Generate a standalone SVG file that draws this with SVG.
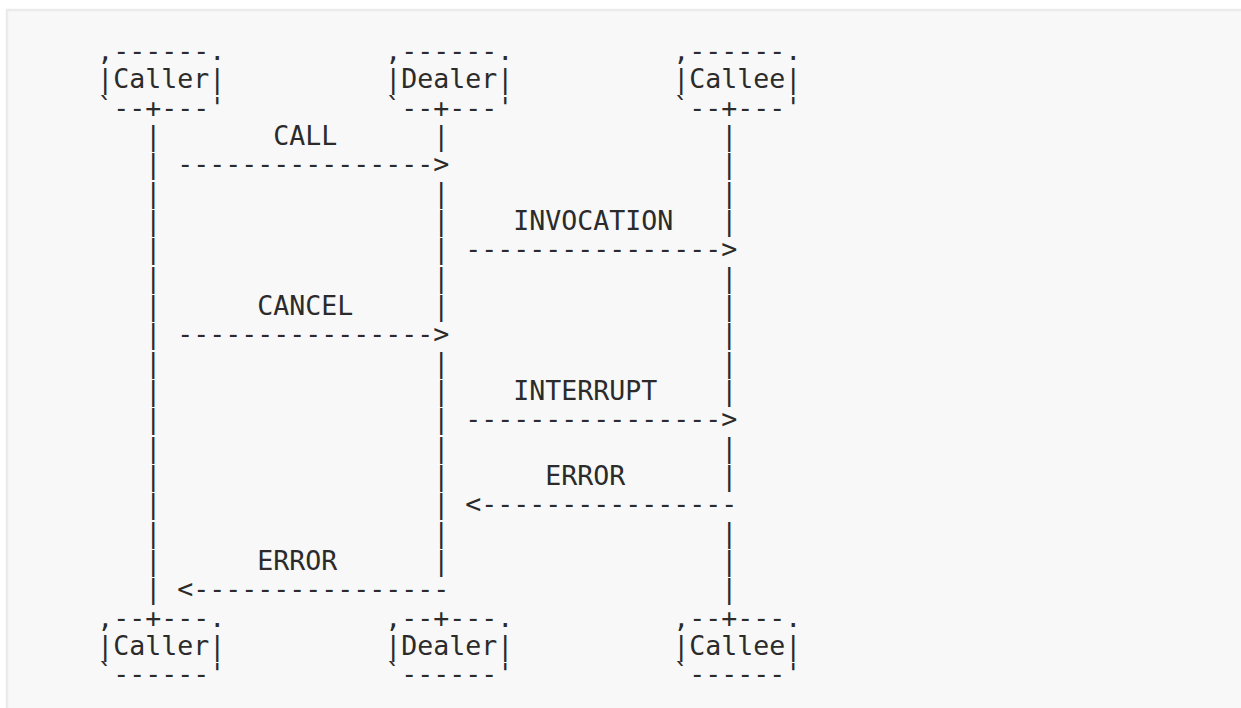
<svg xmlns="http://www.w3.org/2000/svg" width="1241" height="708" viewBox="0 0 1241 708">
<style>
  text { font-family: "DejaVu Sans Mono", "Liberation Mono", monospace; font-size: 26.58px; fill: #2b2b2b; white-space: pre; }
</style>
<rect x="7" y="10" width="1250" height="720" fill="#f8f8f8" stroke="#ebebeb" stroke-width="2.5"/>

<g id="caller-top">
  <text x="97.3" y="60.1">,------.</text>
  <text x="97.3" y="88.4">|Caller|</text>
  <text x="97.3" y="116.8">`--+---'</text>
</g>
<g id="dealer-top">
  <text x="385.3" y="60.1">,------.</text>
  <text x="385.3" y="88.4">|Dealer|</text>
  <text x="385.3" y="116.8">`--+---'</text>
</g>
<g id="callee-top">
  <text x="673.3" y="60.1">,------.</text>
  <text x="673.3" y="88.4">|Callee|</text>
  <text x="673.3" y="116.8">`--+---'</text>
</g>

<g id="connectors">
  <text id="lifeline-caller">
    <tspan x="145.3" y="145.1">|</tspan><tspan x="145.3" y="173.4">|</tspan><tspan x="145.3" y="201.8">|</tspan><tspan x="145.3" y="230.1">|</tspan><tspan x="145.3" y="258.4">|</tspan><tspan x="145.3" y="286.7">|</tspan><tspan x="145.3" y="315.1">|</tspan><tspan x="145.3" y="343.4">|</tspan><tspan x="145.3" y="371.7">|</tspan><tspan x="145.3" y="400.1">|</tspan><tspan x="145.3" y="428.4">|</tspan><tspan x="145.3" y="456.7">|</tspan><tspan x="145.3" y="485.1">|</tspan><tspan x="145.3" y="513.4">|</tspan><tspan x="145.3" y="541.7">|</tspan><tspan x="145.3" y="570.0">|</tspan><tspan x="145.3" y="598.4">|</tspan>
  </text>
  <text id="lifeline-dealer">
    <tspan x="433.3" y="145.1">|</tspan><tspan x="433.3" y="201.8">|</tspan><tspan x="433.3" y="230.1">|</tspan><tspan x="433.3" y="258.4">|</tspan><tspan x="433.3" y="286.7">|</tspan><tspan x="433.3" y="315.1">|</tspan><tspan x="433.3" y="371.7">|</tspan><tspan x="433.3" y="400.1">|</tspan><tspan x="433.3" y="428.4">|</tspan><tspan x="433.3" y="456.7">|</tspan><tspan x="433.3" y="485.1">|</tspan><tspan x="433.3" y="513.4">|</tspan><tspan x="433.3" y="541.7">|</tspan><tspan x="433.3" y="570.0">|</tspan>
  </text>
  <text id="lifeline-callee">
    <tspan x="721.3" y="145.1">|</tspan><tspan x="721.3" y="173.4">|</tspan><tspan x="721.3" y="201.8">|</tspan><tspan x="721.3" y="230.1">|</tspan><tspan x="721.3" y="286.7">|</tspan><tspan x="721.3" y="315.1">|</tspan><tspan x="721.3" y="343.4">|</tspan><tspan x="721.3" y="371.7">|</tspan><tspan x="721.3" y="400.1">|</tspan><tspan x="721.3" y="456.7">|</tspan><tspan x="721.3" y="485.1">|</tspan><tspan x="721.3" y="541.7">|</tspan><tspan x="721.3" y="570.0">|</tspan><tspan x="721.3" y="598.4">|</tspan>
  </text>

  <text x="273.3" y="145.1">CALL</text>
  <text x="177.3" y="173.4">----------------&gt;</text>

  <text x="513.3" y="230.1">INVOCATION</text>
  <text x="465.3" y="258.4">----------------&gt;</text>

  <text x="257.3" y="315.1">CANCEL</text>
  <text x="177.3" y="343.4">----------------&gt;</text>

  <text x="513.3" y="400.1">INTERRUPT</text>
  <text x="465.3" y="428.4">----------------&gt;</text>

  <text x="545.3" y="485.1">ERROR</text>
  <text x="465.3" y="513.4">&lt;----------------</text>

  <text x="257.3" y="570.0">ERROR</text>
  <text x="177.3" y="598.4">&lt;----------------</text>
</g>

<g id="caller-bottom">
  <text x="97.3" y="626.7">,--+---.</text>
  <text x="97.3" y="655.0">|Caller|</text>
  <text x="97.3" y="683.4">`------'</text>
</g>
<g id="dealer-bottom">
  <text x="385.3" y="626.7">,--+---.</text>
  <text x="385.3" y="655.0">|Dealer|</text>
  <text x="385.3" y="683.4">`------'</text>
</g>
<g id="callee-bottom">
  <text x="673.3" y="626.7">,--+---.</text>
  <text x="673.3" y="655.0">|Callee|</text>
  <text x="673.3" y="683.4">`------'</text>
</g>
</svg>
